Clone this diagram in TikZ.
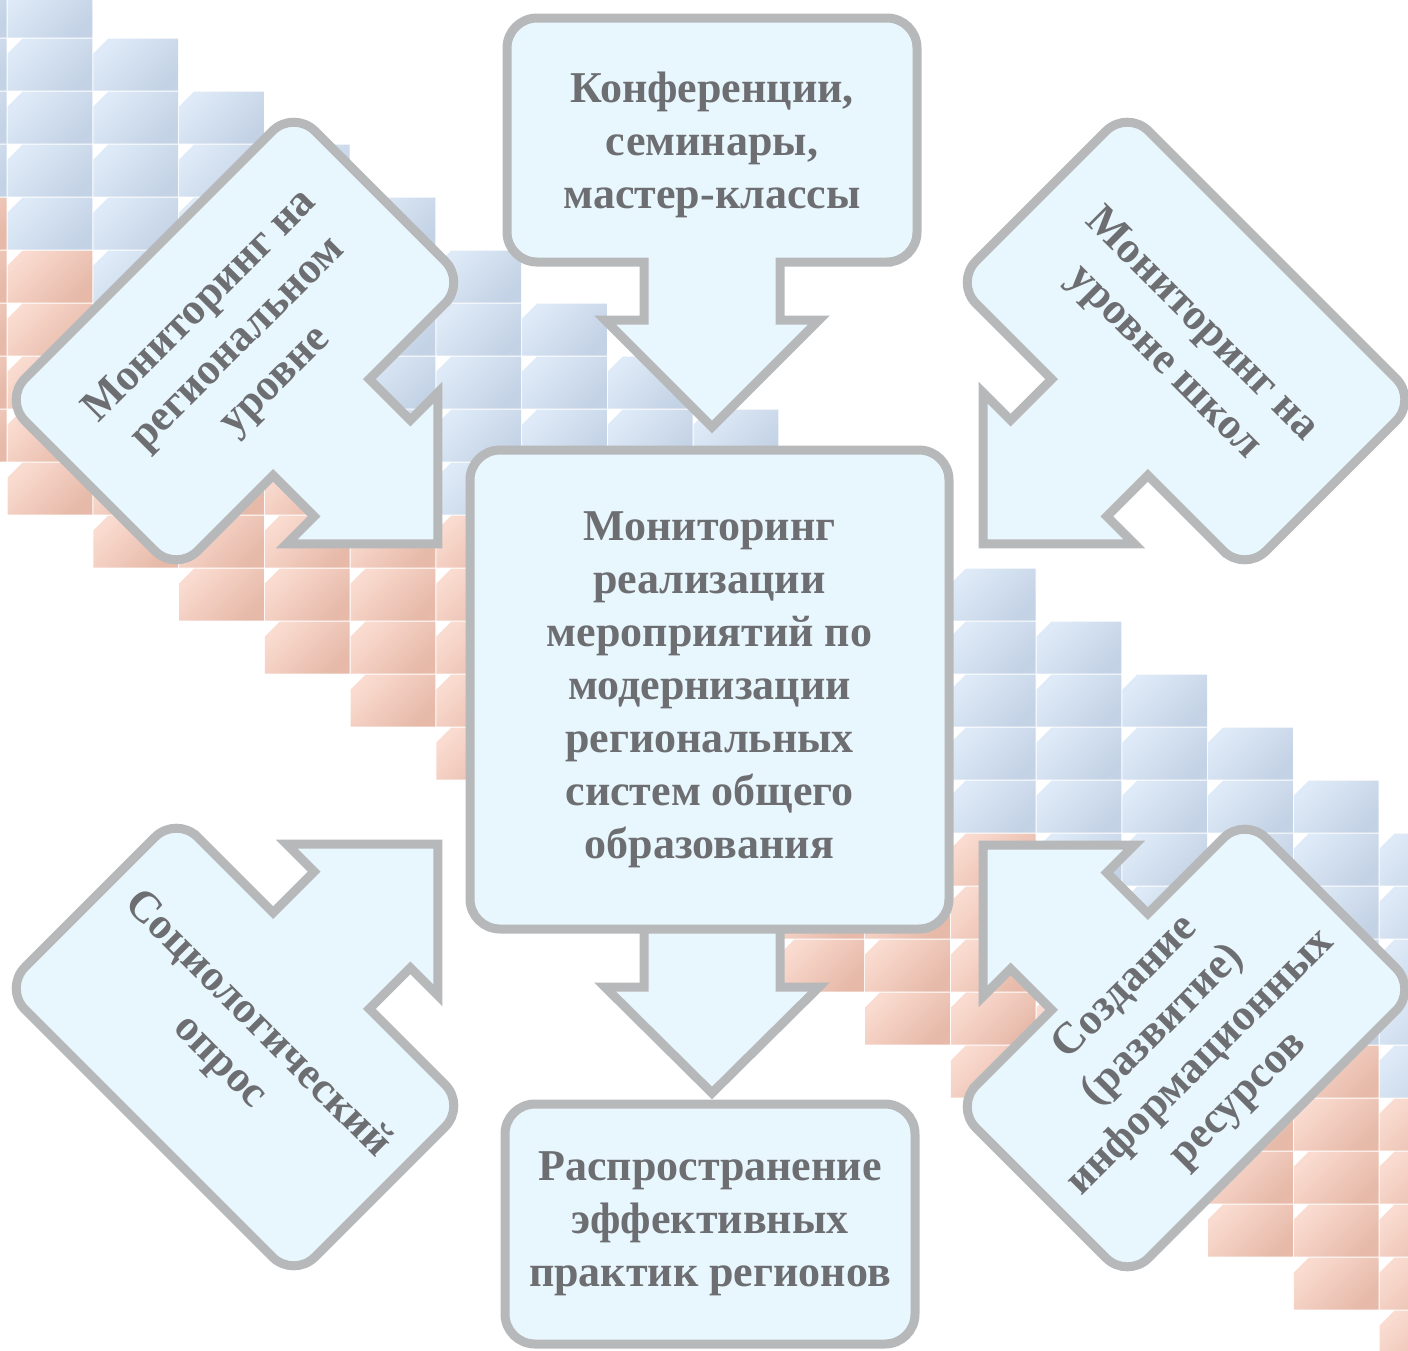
\documentclass[tikz,border=0pt]{standalone}
\usepackage{fontspec}
\setmainfont{Liberation Serif}
\definecolor{fillc}{HTML}{E8F6FD}
\definecolor{linec}{HTML}{B7B8BA}
\definecolor{textc}{HTML}{6D6E71}
\definecolor{tbA}{HTML}{DEEAF7}
\definecolor{tbB}{HTML}{C3D2E5}
\definecolor{tpA}{HTML}{FADBD0}
\definecolor{tpB}{HTML}{E6B9A8}
\tikzset{ c/.style = { draw = linec % callout outline
, fill = fillc
, line width = 4.5pt
}
, b/.style = { c % plain box
, rectangle
, rounded corners = 15pt
}
, t/.style = { text = textc % label
, font = \bfseries\fontsize{22}{26.5}\selectfont
, align = center
}
}
\def\tile(#1,#2)#3{% tile of the staircase
\pgfmathsetmacro{\x}{7+85.75*(#1)}
\pgfmathsetmacro{\y}{-15+53*(#2)}
\shade[top color=#3A, bottom color=#3B, shading angle=45]
(\x+0.5,\y+15.5) -- (\x+15.5,\y+0.5) -- (\x+85.25,\y+0.5) -- (\x+85.25,\y+52.5) -- (\x+0.5,\y+52.5) -- cycle;
}
\def\callout(#1,#2)#3#4#5#6{% box with arrow
\begin{scope}[shift={(#1,#2)}, rotate=#4]
\draw[c] (100,122) -- (68,122) -- (68,180) -- (107,180) -- (0,287) -- (-107,180) -- (-68,180) -- (-68,122) -- (-100,122)
[rounded corners=15pt] -- (-205,122) -- (-205,-122) -- (205,-122) -- (205,122) -- (150,122) [sharp corners] -- cycle;
\node[t, transform shape, rotate=#5] (#3) at (0,5) {#6};
\end{scope}
}
\begin{document}
\begin{tikzpicture}[x=0.5pt, y=-0.5pt]
                    \useasboundingbox (0,0) rectangle (1408,1350);
                    \begin{scope}
                    \clip (0,0) rectangle (1408,1350);
                    \foreach \i in {-1,...,16} {
                        \foreach \k in {0,...,4} \tile(\i,\i+\k){tb};
                        \foreach \k in {5,...,9} \tile(\i,\i+\k){tp};
                    }
                    \end{scope}

                    \callout(712,140){conf}{0}{0}{Конференции,\\семинары,\\мастер-классы}
                    \callout(235,341){regmon}{45}{0}{Мониторинг на\\региональном\\уровне}
                    \callout(1186,341){schmon}{-45}{0}{Мониторинг на\\уровне школ}
                    \callout(235,1047){survey}{135}{180}{Социологический\\опрос}
                    \callout(1186,1048){inform}{-135}{180}{Создание\\(развитие)\\информационных\\ресурсов}

                    \begin{scope}[shift={(712,929)}]
                    \draw[c] (-68,-10) -- (-68,58) -- (-107,58) -- (0,164) -- (107,58) -- (68,58) -- (68,-10);
                    \end{scope}
                    \node[b, t, minimum width=239.5pt, minimum height=239.5pt] (centre) at (709.5,689.5)
                        {Мониторинг\\реализации\\мероприятий по\\модернизации\\региональных\\систем общего\\образования};
                    \node[b, t, minimum width=205pt, minimum height=120pt] (spread) at (710,1224)
                        {Распространение\\эффективных\\практик регионов};
                \end{tikzpicture}
\end{document}
